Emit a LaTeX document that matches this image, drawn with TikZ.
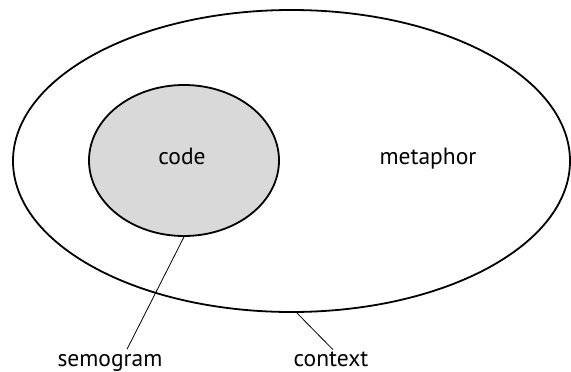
\documentclass[tikz,border=0pt]{standalone}
\usepackage{fontspec}
\setmainfont{PT Sans}
\usetikzlibrary{shapes.geometric,positioning}
\definecolor{semoink}{HTML}{000000}
\definecolor{semofill}{HTML}{D9D9D9}
\tikzset{
  setellipse/.style={draw=semoink,ellipse,line width=1.8pt,inner sep=0pt},
  setlabel/.style={inner sep=0pt,font=\fontsize{23.5}{26}\selectfont},
  leader/.style={draw=semoink,line width=0.8pt},
}
\begin{document}
\begin{tikzpicture}[x=1pt,y=-1pt]
  \path[use as bounding box] (0,0) rectangle (571,372);
  % sets
  \node[setellipse,minimum width=557pt,minimum height=302pt] (ctx) at (291.5,161) {};
  \node[setellipse,fill=semofill,minimum width=190pt,minimum height=151pt] (code) at (184,160.5) {};
  \node[setlabel,anchor=base] (codelabel) at (182,164) {code};
  \node[setlabel,anchor=base] (metaphor) at (428,164) {metaphor};
  % labels below
  \node[setlabel,anchor=base] (semogram) at (110,366.5) {semogram};
  \node[setlabel,anchor=base] (context) at (331,366.5) {context};
  \draw[leader] (code.south) -- ([xshift=17pt,yshift=5pt]semogram.north);
  \draw[leader] (ctx.-88) -- ([xshift=2pt,yshift=2pt]context.north);
\end{tikzpicture}
\end{document}
